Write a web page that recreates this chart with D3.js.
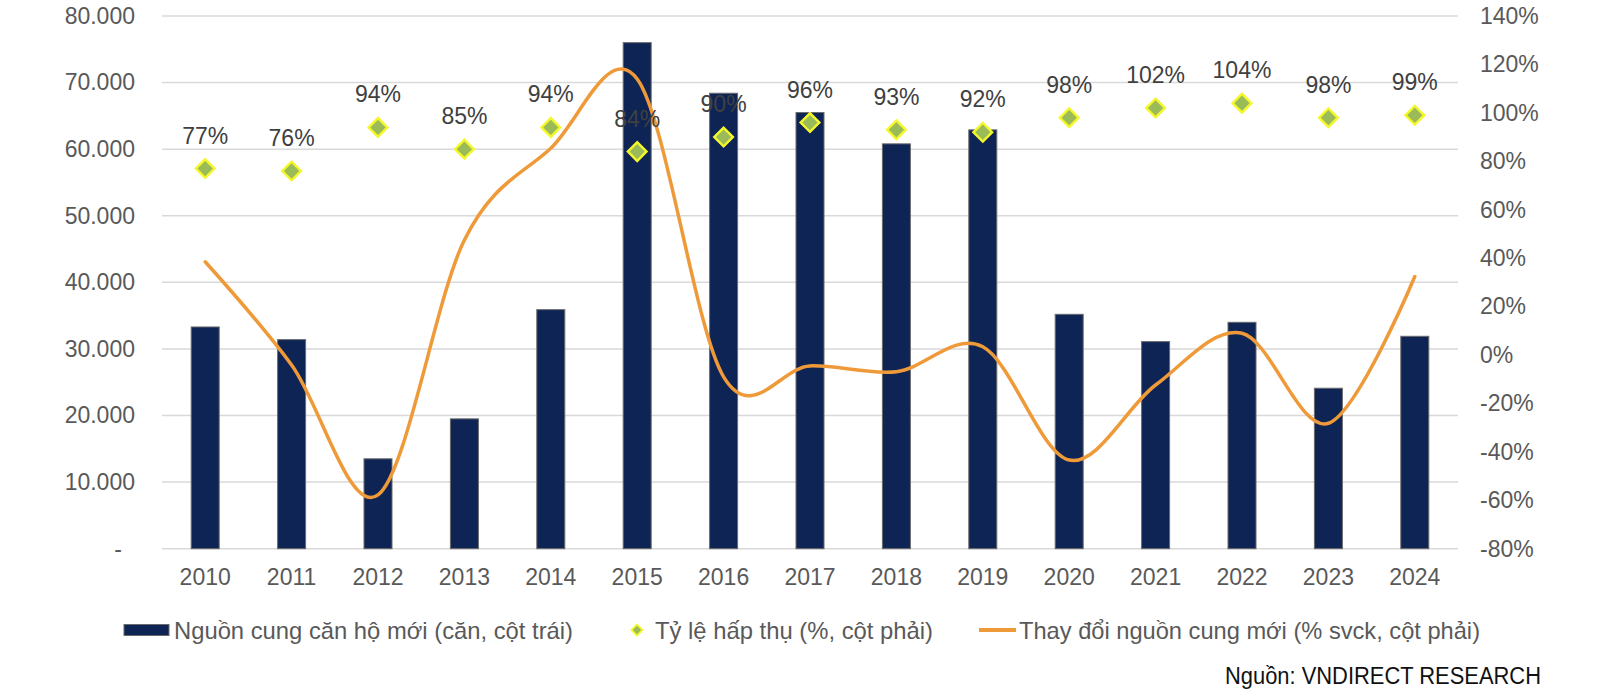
<!DOCTYPE html>
<html>
<head>
<meta charset="utf-8">
<script src="https://cdn.jsdelivr.net/npm/d3@7"></script>
<style>
  html, body { margin: 0; padding: 0; background: #ffffff; }
  svg { display: block; }
  text { font-family: "Liberation Sans", Arial, sans-serif; }
</style>
</head>
<body>
<svg id="chart" width="1600" height="692"></svg>
<script>
// ---- Data ----
const years = ["2010","2011","2012","2013","2014","2015","2016","2017","2018","2019","2020","2021","2022","2023","2024"];
const supply = [33300, 31400, 13500, 19500, 35900, 76000, 68400, 65500, 60800, 62900, 35200, 31100, 34000, 24100, 31900];
const absorption = [77, 76, 94, 85, 94, 84, 90, 96, 93, 92, 98, 102, 104, 98, 99];
const supplyChange = [38.5, -4.1, -57.8, 47.5, 85.4, 114, -9, -4.5, -6.9, 3.4, -43.4, -12.4, 9, -28.2, 32.4];
const leftTicks = [0, 10000, 20000, 30000, 40000, 50000, 60000, 70000, 80000];
const rightTicks = [-80, -60, -40, -20, 0, 20, 40, 60, 80, 100, 120, 140];
const legendLabels = ["Nguồn cung căn hộ mới (căn, cột trái)", "Tỷ lệ hấp thụ (%, cột phải)", "Thay đổi nguồn cung mới (% svck, cột phải)"];
const sourceText = "Nguồn: VNDIRECT RESEARCH";

// ---- Layout ----
const plot = { left: 162, right: 1458, top: 16, bottom: 548.7 };
const svg = d3.select("#chart");

const x = d3.scaleBand().domain(years).range([plot.left, plot.right]).paddingInner(0).paddingOuter(0);
const yL = d3.scaleLinear().domain([0, 80000]).range([plot.bottom, plot.top]);
const yR = d3.scaleLinear().domain([-80, 140]).range([plot.bottom, plot.top]);

const textColor = "#595959";
const fmtL = v => v === 0 ? "-" : d3.format(",")(v).replace(/,/g, ".");

// gridlines
svg.append("g").selectAll("line").data(leftTicks).join("line")
  .attr("x1", plot.left).attr("x2", plot.right)
  .attr("y1", d => yL(d)).attr("y2", d => yL(d))
  .attr("stroke", "#d9d9d9").attr("stroke-width", 1.5);

// left axis
const gL = svg.append("g").attr("transform", `translate(${plot.left - 27},0)`)
  .call(d3.axisLeft(yL).tickValues(leftTicks).tickFormat(fmtL).tickSize(0).tickPadding(0));
gL.select(".domain").remove();
gL.selectAll("text").attr("fill", textColor).attr("font-size", 23)
  .attr("font-family", "Liberation Sans, Arial, sans-serif")
  .attr("dx", d => d === 0 ? -13 : 0);

// right axis
const gR = svg.append("g").attr("transform", `translate(${plot.right + 22},0)`)
  .call(d3.axisRight(yR).tickValues(rightTicks).tickFormat(d => d + "%").tickSize(0).tickPadding(0));
gR.select(".domain").remove();
gR.selectAll("text").attr("fill", textColor).attr("font-size", 23)
  .attr("font-family", "Liberation Sans, Arial, sans-serif");

// bottom axis
const gB = svg.append("g").attr("transform", `translate(0,${plot.bottom})`)
  .call(d3.axisBottom(x).tickSize(0).tickPadding(20));
gB.select(".domain").remove();
gB.selectAll("text").attr("fill", textColor).attr("font-size", 23)
  .attr("font-family", "Liberation Sans, Arial, sans-serif");

// bars
const barW = 28;
svg.append("g").selectAll("rect").data(supply).join("rect")
  .attr("x", (d, i) => x(years[i]) + x.bandwidth() / 2 - barW / 2)
  .attr("y", d => yL(d))
  .attr("width", barW)
  .attr("height", d => yL(0) - yL(d))
  .attr("fill", "#0d2455")
  .attr("stroke", "#6b6b6b").attr("stroke-width", 1);

// line
const line = d3.line()
  .x((d, i) => x(years[i]) + x.bandwidth() / 2)
  .y(d => yR(d))
  .curve(d3.curveCardinal.tension(0));
svg.append("path").datum(supplyChange)
  .attr("d", line)
  .attr("fill", "none").attr("stroke", "#ef9a39").attr("stroke-width", 3.5)
  .attr("stroke-linejoin", "round").attr("stroke-linecap", "round");

// markers
svg.append("g").selectAll("path").data(absorption).join("path")
  .attr("d", d3.symbol().type(d3.symbolSquare).size(175))
  .attr("transform", (d, i) => `translate(${x(years[i]) + x.bandwidth() / 2},${yR(d)}) rotate(45)`)
  .attr("fill", "#9bbb59").attr("stroke", "#f4f72a").attr("stroke-width", 2.4);

// data labels
svg.append("g").selectAll("text").data(absorption).join("text")
  .attr("x", (d, i) => x(years[i]) + x.bandwidth() / 2)
  .attr("y", d => yR(d) - 25)
  .attr("text-anchor", "middle")
  .attr("font-size", 23)
  .attr("fill", "#404040")
  .text(d => d + "%");

// legend
const legY = 630;
const leg = svg.append("g");
leg.append("rect").attr("x", 124).attr("y", legY - 5.5).attr("width", 45).attr("height", 11)
  .attr("fill", "#0d2455").attr("stroke", "#6b6b6b").attr("stroke-width", 1);
leg.append("path").attr("d", d3.symbol().type(d3.symbolSquare).size(60))
  .attr("transform", `translate(637,${legY}) rotate(45)`)
  .attr("fill", "#9bbb59").attr("stroke", "#f4f72a").attr("stroke-width", 1.8);
leg.append("line").attr("x1", 979).attr("x2", 1016).attr("y1", legY).attr("y2", legY)
  .attr("stroke", "#ef9a39").attr("stroke-width", 4);
const legPos = [[174, 399], [655, 278], [1019, 461]];
leg.selectAll("text.l").data(legendLabels).join("text").attr("class", "l")
  .attr("x", (d, i) => legPos[i][0])
  .attr("y", legY + 8.5)
  .attr("font-size", 24)
  .attr("font-family", "Liberation Sans Narrow, Liberation Sans, Arial, sans-serif")
  .attr("fill", textColor)
  .attr("textLength", (d, i) => legPos[i][1])
  .attr("lengthAdjust", "spacingAndGlyphs")
  .text(d => d);

svg.append("text").attr("x", 1225).attr("y", 683.5)
  .attr("font-size", 23)
  .attr("font-family", "Liberation Sans Narrow, Liberation Sans, Arial, sans-serif")
  .attr("fill", "#111111")
  .attr("textLength", 316).attr("lengthAdjust", "spacingAndGlyphs")
  .text(sourceText);
</script>
</body>
</html>
